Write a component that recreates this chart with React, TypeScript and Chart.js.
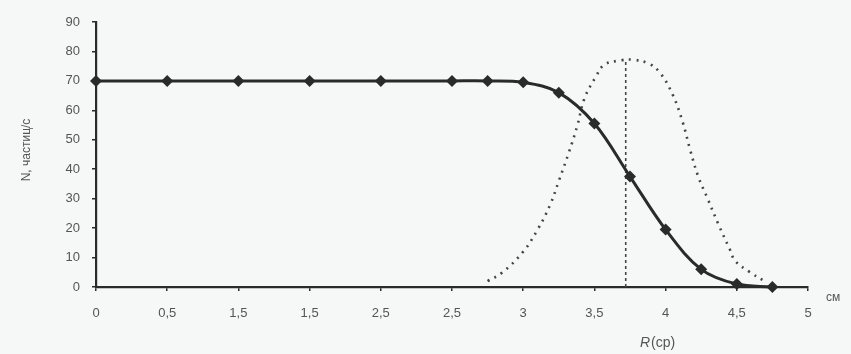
import React, { useEffect, useRef } from "react";
import { Chart, registerables } from "chart.js";

Chart.register(...registerables);

// Tick labels as printed (index i -> value i*0.5 cm)
const xTickLabels = ["0", "0,5", "1,5", "1,5", "2,5", "2,5", "3", "3,5", "4", "4,5", "5"];

// Main curve: N (particles/s) vs R (cm)
const rValues = [0, 0.5, 1, 1.5, 2, 2.5, 2.75, 3, 3.25, 3.5, 3.75, 4, 4.25, 4.5, 4.75];
const nValues = [70, 70, 70, 70, 70, 70, 70, 69.5, 66, 55.5, 37.5, 19.5, 6, 1, 0];

// Dotted distribution curve
const distR = [2.75, 2.85, 3.0, 3.1, 3.19, 3.25, 3.32, 3.38, 3.43, 3.51, 3.57, 3.69, 3.77, 3.88, 3.96, 4.05, 4.12, 4.17, 4.23, 4.29, 4.37, 4.45, 4.49, 4.59, 4.68];
const distN = [2, 4.8, 12, 19.4, 28, 36, 45.6, 54.8, 64, 71.4, 75.5, 77, 77.2, 75.9, 72.8, 65.3, 56, 47, 37.4, 30.6, 21.4, 12.9, 8.8, 5.1, 2.4];

// Vertical marker at R(ср)
const rMean = 3.72;
const markerTop = 77;

const yTitle = "N, частиц/с";
const xUnit = "см";

export default function App() {
  const ref = useRef<HTMLCanvasElement | null>(null);

  useEffect(() => {
    if (!ref.current) return;
    const textColor = "#555";
    const axisColor = "#2a2a2a";
    const labelsPlugin = {
      id: "extraLabels",
      afterDraw(chart: any) {
        const ctx = chart.ctx;
        ctx.save();
        ctx.fillStyle = textColor;
        ctx.font = "12px 'Liberation Sans', Arial, sans-serif";
        ctx.translate(27, 150);
        ctx.rotate(-Math.PI / 2);
        ctx.textAlign = "center";
        ctx.textBaseline = "middle";
        ctx.fillText(yTitle, 0, 0);
        ctx.restore();

        ctx.save();
        ctx.fillStyle = textColor;
        ctx.font = "12px 'Liberation Sans', Arial, sans-serif";
        ctx.textBaseline = "middle";
        ctx.textAlign = "left";
        ctx.fillText(xUnit, 826, 298);
        // R(ср)
        ctx.font = "italic 14px 'Liberation Sans', Arial, sans-serif";
        const rw = ctx.measureText("R").width;
        const x0 = 640;
        ctx.fillText("R", x0, 343);
        ctx.font = "14px 'Liberation Sans', Arial, sans-serif";
        ctx.fillText("(ср)", x0 + rw + 1, 343);
        ctx.restore();
      },
    };

    const chart = new Chart(ref.current, {
      type: "line",
      data: {
        datasets: [
          {
            data: rValues.map((r, i) => ({ x: r, y: nValues[i] })),
            borderColor: "#2a2a2a",
            backgroundColor: "#2a2a2a",
            borderWidth: 3,
            tension: 0.35,
            pointStyle: "rectRot",
            pointRadius: 6,
            pointBorderWidth: 0,
            clip: false as any,
          },
          {
            data: distR.map((r, i) => ({ x: r, y: distN[i] })),
            borderColor: "#444",
            borderWidth: 2.6,
            borderDash: [2, 5.5],
            tension: 0.4,
            pointRadius: 0,
          },
          {
            data: [
              { x: rMean, y: 0 },
              { x: rMean, y: markerTop },
            ],
            borderColor: "#444",
            borderWidth: 1.6,
            borderDash: [3, 3],
            pointRadius: 0,
          },
        ],
      },
      options: {
        animation: false,
        responsive: false,
        maintainAspectRatio: false,
        layout: { padding: { left: 0, right: 43, top: 22, bottom: 0 } },
        plugins: {
          legend: { display: false },
          tooltip: { enabled: false },
        },
        scales: {
          x: {
            type: "linear",
            min: 0,
            max: 5,
            grid: { drawOnChartArea: false, drawTicks: true, tickLength: 4, color: axisColor, lineWidth: 1.5 },
            border: { color: axisColor, width: 2.2 },
            ticks: {
              stepSize: 0.5,
              autoSkip: false,
              maxRotation: 0,
              padding: 15,
              color: textColor,
              font: { family: "'Liberation Sans', Arial, sans-serif", size: 13 },
              callback: (v: any) => xTickLabels[Math.round(Number(v) / 0.5)] ?? "",
            },
            afterFit: (s: any) => {
              s.height = 67;
            },
          },
          y: {
            min: 0,
            max: 90,
            grid: { drawOnChartArea: false, drawTicks: true, tickLength: 4, color: axisColor, lineWidth: 1.5 },
            border: { color: axisColor, width: 2.2 },
            ticks: {
              stepSize: 10,
              padding: 12,
              color: textColor,
              font: { family: "'Liberation Sans', Arial, sans-serif", size: 13 },
            },
            afterFit: (s: any) => {
              s.width = 96;
            },
          },
        },
      },
      plugins: [labelsPlugin],
    });
    return () => chart.destroy();
  }, []);

  return (
    <div style={{ position: "fixed", left: 0, top: 0, width: 851, height: 354, background: "#f6f8f8" }}>
      <canvas ref={ref} width={851} height={354} style={{ display: "block", width: 851, height: 354 }} />
    </div>
  );
}
